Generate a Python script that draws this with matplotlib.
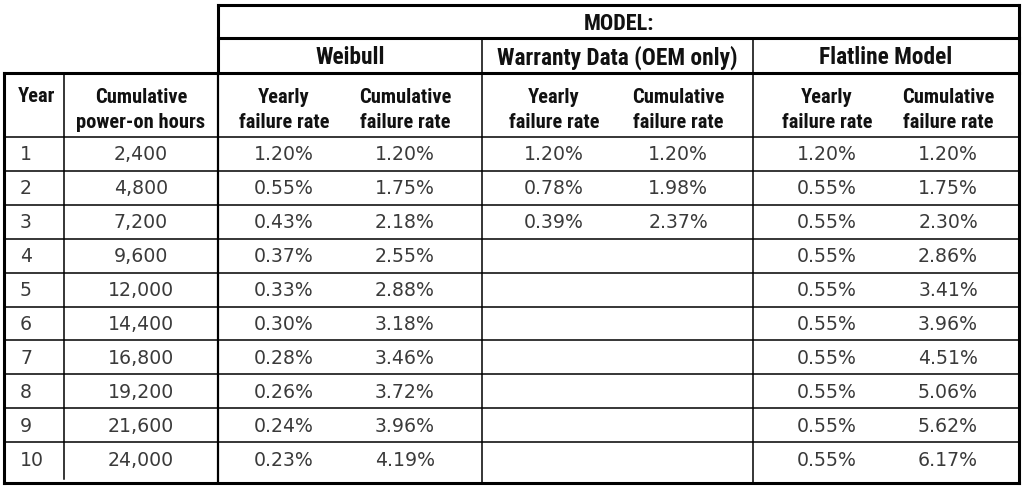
import matplotlib
matplotlib.use("Agg")
import matplotlib.pyplot as plt
from matplotlib import font_manager

# ---------------- data ----------------
years = [1, 2, 3, 4, 5, 6, 7, 8, 9, 10]
power_on_hours = [2400, 4800, 7200, 9600, 12000, 14400, 16800, 19200, 21600, 24000]
weibull_yearly = [1.20, 0.55, 0.43, 0.37, 0.33, 0.30, 0.28, 0.26, 0.24, 0.23]
weibull_cumulative = [1.20, 1.75, 2.18, 2.55, 2.88, 3.18, 3.46, 3.72, 3.96, 4.19]
warranty_yearly = [1.20, 0.78, 0.39]
warranty_cumulative = [1.20, 1.98, 2.37]
flatline_yearly = [1.20, 0.55, 0.55, 0.55, 0.55, 0.55, 0.55, 0.55, 0.55, 0.55]
flatline_cumulative = [1.20, 1.75, 2.30, 2.86, 3.41, 3.96, 4.51, 5.06, 5.62, 6.17]

model_title = "MODEL:"
model_names = ["Weibull", "Warranty Data (OEM only)", "Flatline Model"]
col_headers = ["Year", "Cumulative\npower-on hours",
               "Yearly\nfailure rate", "Cumulative\nfailure rate",
               "Yearly\nfailure rate", "Cumulative\nfailure rate",
               "Yearly\nfailure rate", "Cumulative\nfailure rate"]

# ---------------- layout (pixel grid) ----------------
W, H = 1024, 488
x_left, x_year, x_mid, x_w2, x_w3, x_right = 4, 64, 218, 482, 753, 1019
y_top, y_model, y_head, y_body, y_bottom = 5, 38, 73, 137, 483
row_h = 33.9
col_centers = [20, 141, 284, 405, 554, 678, 827, 948]

installed = {f.name for f in font_manager.fontManager.ttflist}
head_candidates = ["Roboto Condensed", "Liberation Sans Narrow", "Arial Narrow",
                   "IBM Plex Sans Condensed", "Open Sans Condensed", "DejaVu Sans"]
head_family = next(f for f in head_candidates if f in installed or f == "DejaVu Sans")
body_family = "DejaVu Sans"

fig = plt.figure(figsize=(W / 100, H / 100), dpi=100)
ax = fig.add_axes([0, 0, 1, 1])
ax.set_xlim(0, W)
ax.set_ylim(H, 0)
ax.axis("off")

thick = 2.2
mid = 1.6
thin = 1.1
c = "black"

# horizontal lines
ax.plot([x_mid, x_right], [y_top, y_top], color=c, lw=thick, solid_capstyle="projecting")
ax.plot([x_mid, x_right], [y_model, y_model], color=c, lw=thick)
ax.plot([x_left, x_right], [y_head, y_head], color=c, lw=thick, solid_capstyle="projecting")
row_edges = [y_body + row_h * k for k in range(len(years))]
for y in row_edges:
    ax.plot([x_left, x_right], [y, y], color=c, lw=thin)
ax.plot([x_left, x_right], [y_bottom, y_bottom], color=c, lw=thick, solid_capstyle="projecting")

# vertical lines
ax.plot([x_left, x_left], [y_head, y_bottom], color=c, lw=thick, solid_capstyle="projecting")
ax.plot([x_right, x_right], [y_top, y_bottom], color=c, lw=thick, solid_capstyle="projecting")
ax.plot([x_mid, x_mid], [y_top, y_head], color=c, lw=thick, solid_capstyle="projecting")
ax.plot([x_mid, x_mid], [y_head, y_bottom], color=c, lw=mid)
ax.plot([x_year, x_year], [y_head, y_bottom - 4], color=c, lw=thin)
ax.plot([x_w2, x_w2], [y_model, y_bottom], color=c, lw=thin)
ax.plot([x_w3, x_w3], [y_model, y_bottom], color=c, lw=thin)

hkw = dict(family=head_family, fontweight="bold", fontsize=14.8, color="#111111")
mkw = dict(family=head_family, fontweight="bold", fontsize=16.8, color="#111111")
bkw = dict(family=body_family, fontsize=13.6, color="#3a3a3a")

# model headers
ax.text((x_mid + x_right) / 2, 24, model_title, ha="center", va="center",
        **{**mkw, "fontsize": 16})
spans = [(x_mid, x_w2), (x_w2, x_w3), (x_w3, x_right)]
for name, (a, b) in zip(model_names, spans):
    ax.text((a + b) / 2, 57.5, name, ha="center", va="center", **mkw)

# column headers
for i, (cx, txt) in enumerate(zip(col_centers, col_headers)):
    if i == 0:
        ax.text(cx - 2, 97, txt, ha="left", va="center", **hkw)
    else:
        ax.text(cx, 110, txt, ha="center", va="center", linespacing=1.4, **hkw)

# body
def pct(v):
    return f"{v:.2f}%"

for r in range(len(years)):
    yc = y_body + row_h * r + row_h / 2 + 1
    ax.text(col_centers[0], yc, str(years[r]), ha="left", va="center", **bkw)
    ax.text(col_centers[1], yc, f"{power_on_hours[r]:,}", ha="center", va="center", **bkw)
    ax.text(col_centers[2], yc, pct(weibull_yearly[r]), ha="center", va="center", **bkw)
    ax.text(col_centers[3], yc, pct(weibull_cumulative[r]), ha="center", va="center", **bkw)
    if r < len(warranty_yearly):
        ax.text(col_centers[4], yc, pct(warranty_yearly[r]), ha="center", va="center", **bkw)
        ax.text(col_centers[5], yc, pct(warranty_cumulative[r]), ha="center", va="center", **bkw)
    ax.text(col_centers[6], yc, pct(flatline_yearly[r]), ha="center", va="center", **bkw)
    ax.text(col_centers[7], yc, pct(flatline_cumulative[r]), ha="center", va="center", **bkw)

fig.savefig("out.png", dpi=100, facecolor="white")
